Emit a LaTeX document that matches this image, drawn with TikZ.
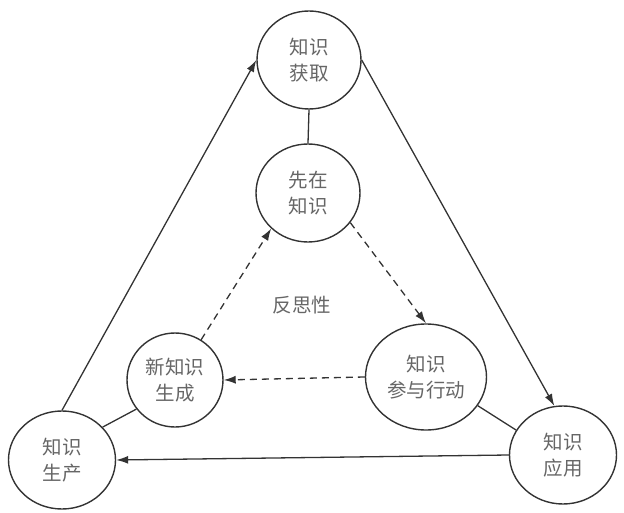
\documentclass[tikz,border=0pt]{standalone}
\usepackage{fontspec}
\setmainfont{Noto Sans CJK SC}
\usetikzlibrary{shapes.geometric,arrows.meta}

\begin{document}
\begin{tikzpicture}[x=1pt,y=-1pt,
  stage/.style={draw=black!80, line width=1.4pt, ellipse, minimum width=104pt,
    minimum height=98pt, inner sep=0pt, align=center, text=black!60,
    font=\fontsize{19.5}{26}\selectfont},
  flow/.style={draw=black!80, line width=1.3pt, -{Latex[length=12pt,width=8pt]}},
  back/.style={flow, dash pattern=on 7pt off 5pt},
  tie/.style={draw=black!80, line width=1.3pt}]
  \useasboundingbox (0,0) rectangle (624,513);
  \node[stage] (acq) at (309,60) {知识\\获取};
  \node[stage] (prior) at (308,193) {先在\\知识};
  \node[stage, minimum width=96pt, minimum height=94pt] (new) at (175,380) {新知识\\生成};
  \node[stage, minimum width=107pt] (prod) at (62,460) {知识\\生产};
  \node[stage, minimum width=121pt, minimum height=106pt] (act) at (426,377) {知识\\参与行动};
  \node[stage, minimum width=107pt] (app) at (563,455) {知识\\应用};
  \node[text=black!60, font=\fontsize{19.5}{26}\selectfont] (refl) at (302,305) {反思性};

  \draw[flow] (prod.north) -- (acq.west);
  \draw[flow] (acq.east) -- (app.100);
  \draw[flow] (app.west) -- (prod.east);
  \draw[tie] (acq.south) -- (prior.north);
  \draw[back] (prior.-35) -- (act.north);
  \draw[back] (act.west) -- (new.east);
  \draw[back] (new.57) -- (prior.224);
  \draw[tie] (new.217) -- (prod.39);
  \draw[tie] (act.-29) -- (app.152);
\end{tikzpicture}
\end{document}
